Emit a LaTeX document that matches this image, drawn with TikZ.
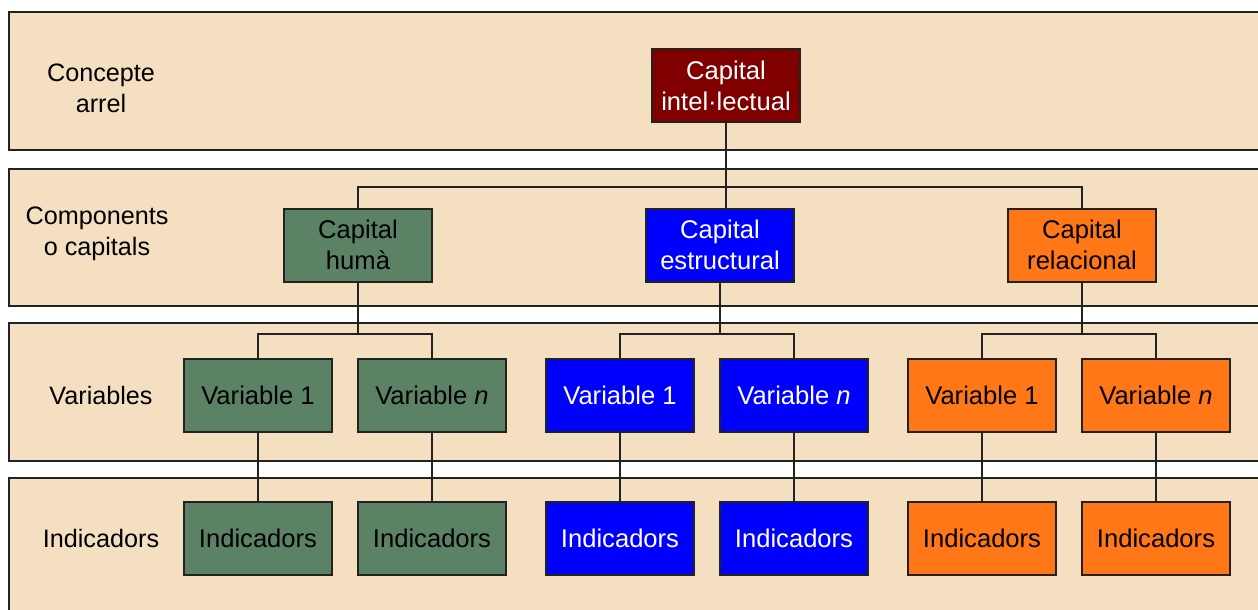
\documentclass[tikz,border=0pt]{standalone}
\usepackage{fontspec}
\setmainfont{Liberation Sans}
\usepackage{tikz}

\definecolor{bandfill}{HTML}{F4E0C1}
\definecolor{rootred}{HTML}{800000}
\definecolor{humgreen}{HTML}{5B8264}
\definecolor{estblue}{HTML}{0000FF}
\definecolor{relorange}{HTML}{FF7716}
\definecolor{edgegray}{HTML}{222222}

\begin{document}
\begin{tikzpicture}[x=0.5pt,y=-0.5pt,
  band/.style={draw=edgegray,line width=1pt,fill=bandfill},
  cbox/.style={draw=edgegray,line width=1pt,minimum width=74pt,minimum height=36.5pt,
    inner sep=1pt,align=center,font=\fontsize{12.8}{15.5}\selectfont},
  lbl/.style={align=center,font=\fontsize{12.6}{15.5}\selectfont},
  link/.style={draw=edgegray,line width=0.8pt}]

\clip (0,0) rectangle (1258,610);

% bands
\draw[band] (9,12) rectangle (1275,150);
\draw[band] (9,169) rectangle (1275,306);
\draw[band] (9,323) rectangle (1275,461);
\draw[band] (9,478) rectangle (1275,630);

% level labels
\node[lbl] (l1) at (101,88) {Concepte\\arrel};
\node[lbl] (l2) at (97,234) {Components\\o capitals};
\node[lbl] (l3) at (101,395) {Variables};
\node[lbl] (l4) at (101,538) {Indicadors};

% root
\node[cbox,fill=rootred,text=white] (root) at (726,86) {Capital\\intel·lectual};

% components
\node[cbox,fill=humgreen] (hum) at (358,245) {Capital\\humà};
\node[cbox,fill=estblue,text=white] (est) at (720,245) {Capital\\estructural};
\node[cbox,fill=relorange] (rel) at (1082,245) {Capital\\relacional};

% variables
\node[cbox,fill=humgreen] (hv1) at (258,395) {Variable 1};
\node[cbox,fill=humgreen] (hvn) at (432,395) {Variable \textit{n}};
\node[cbox,fill=estblue,text=white] (ev1) at (620,395) {Variable 1};
\node[cbox,fill=estblue,text=white] (evn) at (794,395) {Variable \textit{n}};
\node[cbox,fill=relorange] (rv1) at (982,395) {Variable 1};
\node[cbox,fill=relorange] (rvn) at (1156,395) {Variable \textit{n}};

% indicators
\node[cbox,fill=humgreen] (hi1) at (258,538) {Indicadors};
\node[cbox,fill=humgreen] (hin) at (432,538) {Indicadors};
\node[cbox,fill=estblue,text=white] (ei1) at (620,538) {Indicadors};
\node[cbox,fill=estblue,text=white] (ein) at (794,538) {Indicadors};
\node[cbox,fill=relorange] (ri1) at (982,538) {Indicadors};
\node[cbox,fill=relorange] (rin) at (1156,538) {Indicadors};

% bus heights
\coordinate (bus1) at (724,187);
\coordinate (bus2) at (0,334);

\draw[link] (root.south) -- (root.south |- est.north);
\draw[link] (hum.north) -- (hum.north |- bus1) -- (rel.north |- bus1) -- (rel.north);

\draw[link] (hum.south) -- (hum.south |- bus2);
\draw[link] (hv1.north) -- (hv1.north |- bus2) -- (hvn.north |- bus2) -- (hvn.north);
\draw[link] (est.south) -- (est.south |- bus2);
\draw[link] (ev1.north) -- (ev1.north |- bus2) -- (evn.north |- bus2) -- (evn.north);
\draw[link] (rel.south) -- (rel.south |- bus2);
\draw[link] (rv1.north) -- (rv1.north |- bus2) -- (rvn.north |- bus2) -- (rvn.north);

\draw[link] (hv1) -- (hi1);
\draw[link] (hvn) -- (hin);
\draw[link] (ev1) -- (ei1);
\draw[link] (evn) -- (ein);
\draw[link] (rv1) -- (ri1);
\draw[link] (rvn) -- (rin);

\end{tikzpicture}
\end{document}
